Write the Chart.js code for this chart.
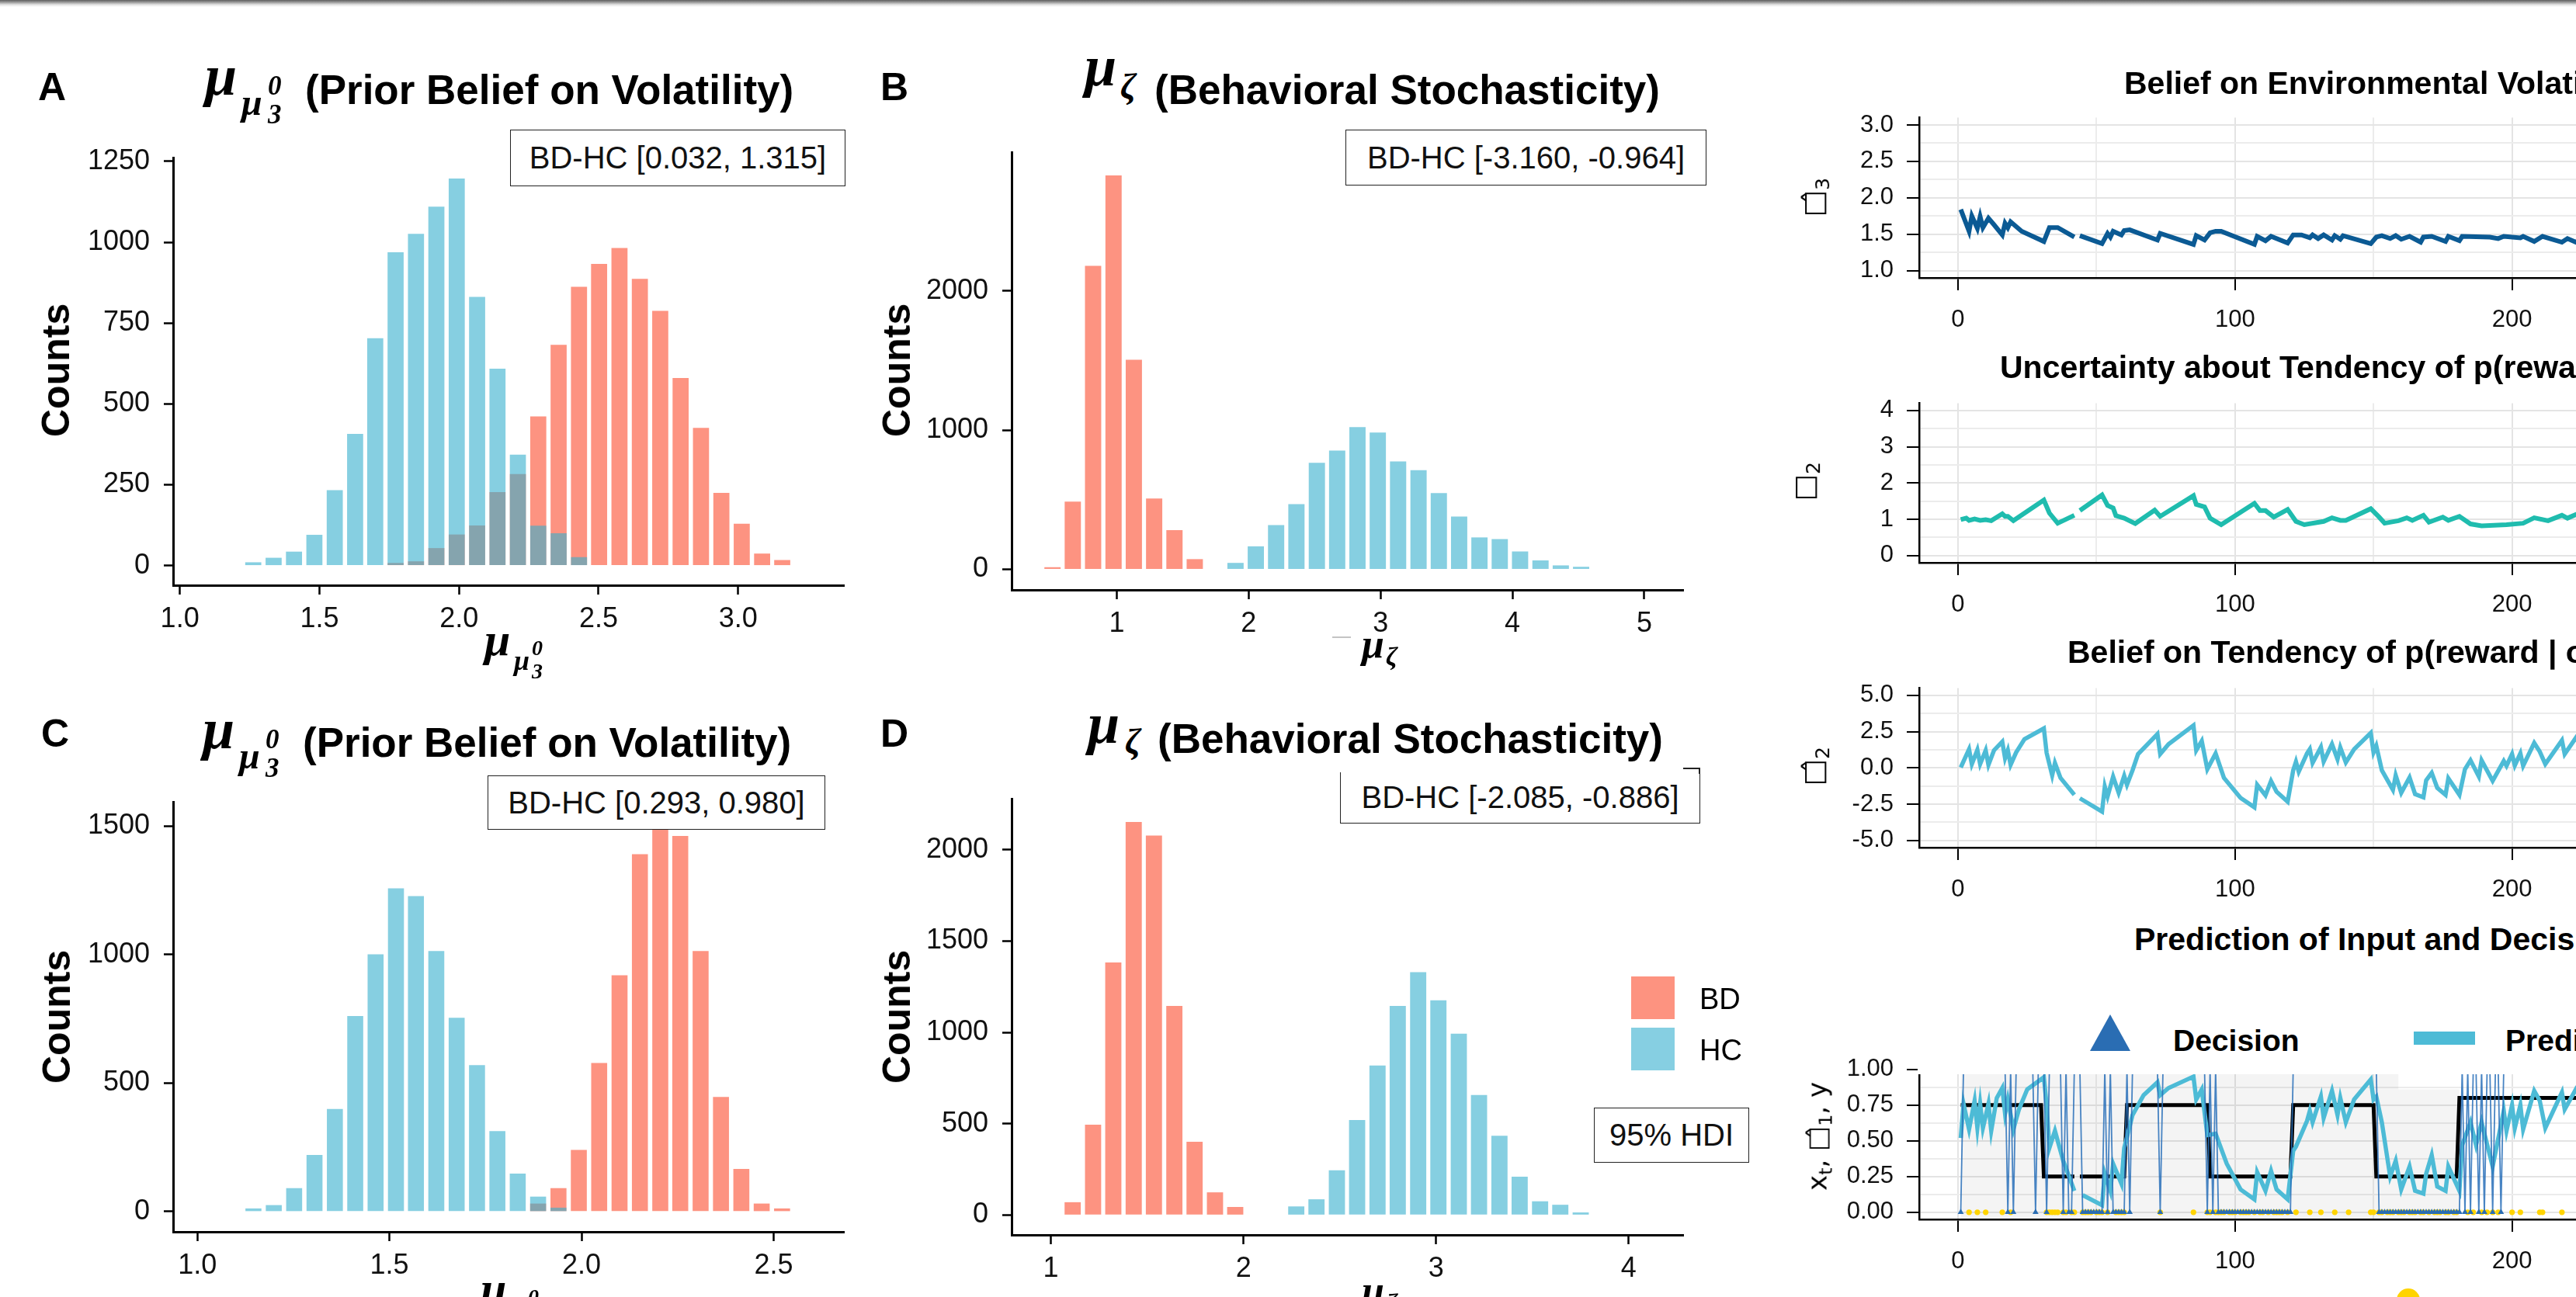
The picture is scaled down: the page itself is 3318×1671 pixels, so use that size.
<!DOCTYPE html>
<html>
<head>
<meta charset="utf-8">
<script src="https://cdn.jsdelivr.net/npm/chart.js@4.4.0/dist/chart.umd.min.js"></script>
<style>
html, body { margin: 0; padding: 0; width: 3318px; height: 1671px; overflow: hidden; background: #fff; }
body { position: relative; font-family: 'Liberation Sans', Arial, sans-serif; color: #000; }
canvas { position: absolute; }
.t { position: absolute; white-space: nowrap; line-height: 1; }
.b { font-weight: bold; }
.m { font-family: 'Liberation Serif', 'DejaVu Serif', serif; font-style: italic; font-weight: bold; }
.g { font-family: 'DejaVu Sans', sans-serif; }
.rot { position: absolute; white-space: nowrap; line-height: 1; transform: translate(-50%, -50%) rotate(-90deg); }
.box { position: absolute; box-sizing: border-box; border: 1.6px solid #222; background: #fff;
       display: flex; align-items: center; justify-content: center; font-size: 40px; color: #111; }
sub { font-size: 0.7em; vertical-align: -0.3em; }
</style>
</head>
<body>
<div style="position:absolute;left:0;top:0;width:3318px;height:9px;background:linear-gradient(#5e5e5e,#9c9c9c 3px,#e2e2e2 6px,#fff 9px);"></div>
<script>
// ---------- histogram data (bin centres and counts) ----------
const binsA = [1.263, 1.336, 1.409, 1.482, 1.555, 1.628, 1.700, 1.773, 1.846, 1.919, 1.992, 2.065, 2.138, 2.211,
  2.284, 2.357, 2.430, 2.502, 2.575, 2.648, 2.721, 2.794, 2.867, 2.940, 3.013, 3.086, 3.158];
const bdA = [0, 0, 0, 0, 0, 0, 0, 8, 13, 54, 96, 124, 227, 283, 461, 683, 862, 933, 982, 887, 788, 580, 426, 225, 129, 37, 17];
const hcA = [10, 24, 43, 95, 233, 407, 703, 969, 1026, 1110, 1197, 831, 609, 343, 123, 100, 26, 0, 0, 0, 0, 0, 0, 0, 0, 0, 0];

const binsB = [0.512, 0.666, 0.820, 0.975, 1.129, 1.283, 1.437, 1.591, 1.746, 1.900, 2.054, 2.208, 2.362, 2.517,
  2.671, 2.825, 2.979, 3.133, 3.288, 3.442, 3.596, 3.750, 3.904, 4.058, 4.213, 4.367, 4.521];
const bdB = [15, 486, 2180, 2829, 1505, 508, 281, 73, 0, 0, 0, 0, 0, 0, 0, 0, 0, 0, 0, 0, 0, 0, 0, 0, 0, 0, 0];
const hcB = [0, 0, 0, 0, 0, 0, 0, 0, 0, 46, 165, 318, 468, 765, 853, 1021, 982, 774, 712, 547, 379, 229, 217, 128, 64, 28, 18];

const binsC = [1.146, 1.199, 1.252, 1.305, 1.358, 1.411, 1.464, 1.517, 1.569, 1.622, 1.675, 1.728, 1.781, 1.834,
  1.887, 1.940, 1.993, 2.046, 2.099, 2.152, 2.205, 2.257, 2.310, 2.363, 2.416, 2.469, 2.522];
const bdC = [0, 0, 0, 0, 0, 0, 0, 0, 0, 0, 0, 0, 0, 0, 31, 91, 240, 578, 920, 1391, 1530, 1462, 1014, 446, 166, 31, 12];
const hcC = [12, 25, 91, 220, 399, 761, 1001, 1258, 1228, 1014, 754, 570, 313, 148, 58, 15, 0, 0, 0, 0, 0, 0, 0, 0, 0, 0, 0];

const binsD = [1.113, 1.219, 1.324, 1.430, 1.535, 1.641, 1.746, 1.852, 1.957, 2.063, 2.168, 2.274, 2.379, 2.485,
  2.590, 2.696, 2.801, 2.907, 3.012, 3.118, 3.223, 3.329, 3.434, 3.540, 3.645, 3.751];
const bdD = [70, 494, 1382, 2152, 2077, 1145, 401, 124, 44, 0, 0, 0, 0, 0, 0, 0, 0, 0, 0, 0, 0, 0, 0, 0, 0, 0];
const hcD = [0, 0, 0, 0, 0, 0, 0, 0, 0, 0, 0, 47, 86, 245, 520, 818, 1145, 1329, 1175, 993, 657, 434, 210, 75, 56, 14];

const xTicksA = [1.0, 1.5, 2.0, 2.5, 3.0], yTicksA = [0, 250, 500, 750, 1000, 1250];
const xTicksB = [1, 2, 3, 4, 5], yTicksB = [0, 1000, 2000];
const xTicksC = [1.0, 1.5, 2.0, 2.5], yTicksC = [0, 500, 1000, 1500];
const xTicksD = [1, 2, 3, 4], yTicksD = [0, 500, 1000, 1500, 2000];

// ---------- trajectory data [trial, value] ----------
const volBelief = [[1,1.84],[2,1.74],[4,1.54],[5,1.75],[7,1.58],[8,1.74],[9,1.59],[11,1.72],[13,1.63],[16,1.49],[17,1.65],
  [18,1.59],[19,1.67],[23,1.54],[31,1.40],[33,1.59],[36,1.59],[42,1.46],[43,null],[44,1.48],[52,1.37],[54,1.51],[55,1.46],
  [56,1.54],[59,1.49],[60,1.55],[62,1.56],[72,1.42],[73,1.51],[85,1.36],[86,1.48],[89,1.42],[91,1.52],[93,1.54],[95,1.54],
  [107,1.36],[108,1.47],[111,1.41],[113,1.47],[119,1.38],[121,1.49],[124,1.49],[127,1.45],[128,1.49],[130,1.44],[132,1.49],
  [135,1.42],[136,1.48],[138,1.43],[139,1.48],[149,1.37],[151,1.46],[153,1.48],[156,1.44],[158,1.48],[160,1.43],[163,1.47],
  [167,1.39],[168,1.46],[171,1.47],[176,1.40],[177,1.47],[181,1.41],[182,1.47],[192,1.46],[195,1.44],[197,1.47],[203,1.45],
  [204,1.47],[208,1.40],[211,1.47],[218,1.39],[220,1.44],[223,1.39],[226,1.44],[230,1.41]];

const uncertainty = [[1,0.99],[3,1.03],[4,0.97],[6,1.01],[8,0.97],[10,0.99],[12,0.96],[16,1.15],[17,1.08],[18,1.08],[20,0.96],
  [31,1.53],[33,1.17],[36,0.89],[42,1.11],[43,null],[44,1.24],[52,1.67],[54,1.38],[56,1.31],[57,1.10],[60,1.03],[64,0.88],
  [71,1.25],[73,1.08],[85,1.65],[86,1.41],[89,1.34],[91,1.03],[95,0.85],[107,1.44],[109,1.24],[111,1.24],[114,1.06],[119,1.27],
  [122,0.94],[125,0.85],[132,0.94],[135,1.04],[138,0.97],[140,0.97],[149,1.29],[152,1.06],[154,0.89],[159,0.96],[162,1.04],
  [164,0.97],[168,1.11],[170,0.92],[175,1.06],[177,0.97],[181,1.08],[185,0.87],[189,0.82],[198,0.85],[204,0.89],[208,1.04],
  [213,0.96],[218,1.11],[220,1.03],[223,1.13],[226,1.05],[230,1.12]];

const tendency = [[1,0.03],[4,1.29],[5,0.26],[7,1.24],[8,0.26],[10,1.21],[11,0.21],[13,1.21],[16,1.81],[17,0.66],[18,1.21],
  [19,0.21],[21,1.07],[24,1.98],[31,2.72],[32,1.03],[34,-0.52],[35,0.34],[37,-0.69],[42,-1.86],[43,null],[44,-2.10],[52,-3.02],
  [53,-1.29],[54,-1.98],[56,-0.60],[58,-1.72],[60,-0.55],[61,-1.17],[63,-0.17],[65,0.95],[72,2.33],[73,0.95],[76,1.64],[85,2.93],
  [86,1.21],[88,1.86],[90,-0.09],[93,1.00],[96,-0.69],[102,-2.07],[107,-2.72],[108,-1.17],[111,-1.90],[113,-0.90],[115,-1.64],
  [119,-2.33],[121,-0.17],[122,0.43],[123,-0.26],[126,1.00],[127,1.29],[128,0.34],[131,1.43],[132,0.43],[135,1.64],[137,0.60],
  [138,1.41],[140,0.38],[143,1.29],[149,2.41],[150,1.07],[151,1.52],[153,-0.17],[157,-1.52],[158,-0.52],[160,-1.72],[163,-0.66],
  [165,-1.81],[168,-2.03],[169,-0.86],[171,-0.34],[173,-1.38],[176,-1.86],[177,-0.72],[181,-1.86],[183,-0.09],[185,0.52],
  [188,-0.60],[189,0.52],[193,-0.90],[197,0.48],[198,0.14],[200,0.95],[201,0.17],[203,1.00],[204,0.14],[208,1.72],[210,1.12],
  [212,0.26],[218,1.90],[219,0.95],[223,2.07],[226,1.20],[230,2.20]];

const prediction = [[1,0.52],[2,0.76],[4,0.58],[6,0.78],[7,0.59],[8,0.76],[9,0.59],[11,0.76],[12,0.57],[14,0.80],[16,0.87],
  [17,0.69],[18,0.79],[20,0.58],[22,0.72],[25,0.86],[31,0.945],[32,0.75],[33,0.45],[35,0.57],[38,0.36],[42,0.15],[43,null],
  [45,0.12],[52,0.05],[53,0.27],[55,0.15],[56,0.34],[59,0.20],[60,0.45],[63,0.68],[67,0.82],[72,0.91],[73,0.82],[76,0.87],
  [85,0.95],[86,0.79],[88,0.86],[90,0.54],[93,0.55],[97,0.34],[102,0.16],[107,0.09],[108,0.28],[111,0.15],[113,0.29],[115,0.16],
  [119,0.09],[121,0.43],[122,0.46],[126,0.64],[127,0.71],[128,0.63],[131,0.81],[132,0.66],[135,0.85],[137,0.68],[138,0.80],
  [140,0.63],[143,0.79],[149,0.93],[150,0.79],[151,0.81],[153,0.63],[156,0.25],[158,0.36],[160,0.16],[163,0.32],[165,0.15],
  [168,0.13],[169,0.27],[171,0.40],[173,0.18],[176,0.15],[177,0.32],[181,0.15],[182,0.47],[185,0.63],[187,0.47],[189,0.63],
  [193,0.32],[197,0.71],[198,0.57],[200,0.75],[201,0.59],[203,0.75],[204,0.58],[208,0.85],[210,0.78],[212,0.59],[218,0.84],
  [219,0.72],[223,0.86],[226,0.77],[230,0.90]];

const trueProb = [[1,0.75],[30,0.75],[31,0.25],[42,0.25],[43,null],[44,0.25],[60,0.25],[61,0.75],[90,0.75],[91,0.25],
  [120,0.25],[121,0.75],[150,0.75],[151,0.25],[180,0.25],[181,0.8],[230,0.8]];

const ribbon = [[1,1.05],[159,1.05],[159,0.86],[181,0.86]];

// decisions for trials 1..230, ten per row
const decisionRows = ['0111111111', '1111111010', '1111111011', '1011111010', '0111000000', '0010100000',
  '1011111111', '1101111111', '1111111110', '1010000000', '0000000000', '0000000000', '1111111111',
  '1111111111', '1111111111', '1000000000', '0000000000', '0000000000', '0101011010', '1101101111',
  '1111111111', '1111111111', '1111111111'];
// trials where the input was 0
const inputZero = [4,7,10,16,19,32,33,34,35,36,38,39,41,42,45,46,47,48,50,51,52,54,57,58,59,60,73,85,90,91,93,94,95,96,
  98,99,100,102,103,104,105,107,109,110,112,114,115,116,117,119,122,127,131,136,141,149,150,152,153,155,156,157,159,160,
  161,163,164,165,167,168,170,172,173,174,176,177,179,180,184,186,189,191,193,195,200,203,210,211,218];

const trialRange = [-14, 315];
const trialTicks = [0, 50, 100, 150, 200, 250, 300];

// ---------- helpers ----------
Chart.defaults.font.family = "'Liberation Sans', Arial, sans-serif";
Chart.defaults.color = '#000';

const RED = 'rgba(252,75,45,0.6)';
const BLUE = 'rgba(53,175,205,0.6)';

function makeCanvas(area, yW, xH, padT, padR) {
  const c = document.createElement('canvas');
  const w = Math.round(yW + (area.r - area.l) + padR);
  const h = Math.round(padT + (area.b - area.t) + xH);
  c.width = w; c.height = h;
  c.style.width = w + 'px'; c.style.height = h + 'px';
  c.style.left = (area.l - yW) + 'px';
  c.style.top = (area.t - padT) + 'px';
  document.body.appendChild(c);
  return c;
}

const toXY = arr => arr.map(p => ({ x: p[0], y: p[1] }));
const isMajor = (v, s) => Math.abs(v / s - Math.round(v / s)) < 1e-6;

function histChart(area, xr, yr, xTicks, yTicks, xDec, bins, bd, hc) {
  const yW = 160, xH = 80, padT = 40, padR = 30;
  const c = makeCanvas(area, yW, xH, padT, padR);
  const pts = arr => bins.map((b, i) => ({ x: b, y: arr[i] })).filter(p => p.y > 0);
  new Chart(c, {
    type: 'bar',
    data: {
      datasets: [
        { label: 'BD', data: pts(bd), backgroundColor: RED, grouped: false, barPercentage: 0.8, categoryPercentage: 1, order: 2 },
        { label: 'HC', data: pts(hc), backgroundColor: BLUE, grouped: false, barPercentage: 0.8, categoryPercentage: 1, order: 1 }
      ]
    },
    options: {
      responsive: false, animation: false, events: [],
      layout: { padding: { left: 0, top: padT, right: padR, bottom: 0 } },
      plugins: { legend: { display: false }, tooltip: { enabled: false } },
      scales: {
        x: {
          type: 'linear', min: xr[0], max: xr[1], offset: false, bounds: 'data',
          afterFit: s => { s.height = xH; },
          afterBuildTicks: s => { s.ticks = xTicks.map(v => ({ value: v })); },
          grid: { offset: false, drawOnChartArea: false, tickLength: 12, tickWidth: 2.5, tickColor: '#000' },
          border: { display: true, color: '#000', width: 3 },
          ticks: { font: { size: 36 }, color: '#111', padding: 10, maxRotation: 0, autoSkip: false,
                   callback: v => Number(v).toFixed(xDec) }
        },
        y: {
          min: yr[0], max: yr[1], bounds: 'data',
          afterFit: s => { s.width = yW; },
          afterBuildTicks: s => { s.ticks = yTicks.map(v => ({ value: v })); },
          grid: { drawOnChartArea: false, tickLength: 12, tickWidth: 2.5, tickColor: '#000' },
          border: { display: true, color: '#000', width: 3 },
          ticks: { font: { size: 36 }, color: '#111', padding: 18, autoSkip: false, callback: v => String(v) }
        }
      }
    }
  });
}

function linePanel(area, yr, yTicks, yMajor, yDec, datasets) {
  const yW = 140, xH = 75, padT = 30, padR = 20;
  const c = makeCanvas(area, yW, xH, padT, padR);
  const tv = ctx => (ctx.tick ? ctx.tick.value : 0);
  new Chart(c, {
    type: 'line',
    data: { datasets },
    options: {
      responsive: false, animation: false, events: [],
      layout: { padding: { left: 0, top: padT, right: padR, bottom: 0 } },
      plugins: { legend: { display: false }, tooltip: { enabled: false } },
      elements: { point: { radius: 0 }, line: { tension: 0 } },
      scales: {
        x: {
          type: 'linear', min: trialRange[0], max: trialRange[1], bounds: 'data',
          afterFit: s => { s.height = xH; },
          afterBuildTicks: s => { s.ticks = trialTicks.map(v => ({ value: v })); },
          grid: { color: ctx => isMajor(tv(ctx), 100) ? '#e4e4e4' : '#ececec', lineWidth: 2,
                  tickLength: 16, tickWidth: 2,
                  tickColor: ctx => isMajor(tv(ctx), 100) ? '#000' : 'rgba(0,0,0,0)' },
          border: { display: true, color: '#000', width: 2.5 },
          ticks: { font: { size: 31 }, color: '#111', padding: 20, maxRotation: 0, autoSkip: false,
                   callback: v => isMajor(v, 100) ? String(v) : '' }
        },
        y: {
          min: yr[0], max: yr[1], bounds: 'data',
          afterFit: s => { s.width = yW; },
          afterBuildTicks: s => { s.ticks = yTicks.map(v => ({ value: v })); },
          grid: { color: ctx => isMajor(tv(ctx), yMajor) ? '#e4e4e4' : '#ececec', lineWidth: 2,
                  tickLength: 16, tickWidth: 2,
                  tickColor: ctx => isMajor(tv(ctx), yMajor) ? '#000' : 'rgba(0,0,0,0)' },
          border: { display: true, color: '#000', width: 2.5 },
          ticks: { font: { size: 31 }, color: '#111', padding: 17, autoSkip: false,
                   callback: v => isMajor(v, yMajor) ? Number(v).toFixed(yDec) : '' }
        }
      }
    }
  });
}

function put(html, left, base, size, cls, color) {
  const d = document.createElement('div');
  d.className = 't ' + (cls || '');
  d.style.left = left + 'px';
  d.style.top = (base - 0.85 * size) + 'px';
  d.style.fontSize = size + 'px';
  if (color) d.style.color = color;
  d.innerHTML = html;
  document.body.appendChild(d);
  return d;
}
function rot(html, cx, cy, size, cls) {
  const d = document.createElement('div');
  d.className = 'rot ' + (cls || '');
  d.style.left = cx + 'px'; d.style.top = cy + 'px'; d.style.fontSize = size + 'px';
  d.innerHTML = html;
  document.body.appendChild(d);
}
function rect(l, t, w, h, style) {
  const d = document.createElement('div');
  d.style.position = 'absolute';
  d.style.left = l + 'px'; d.style.top = t + 'px'; d.style.width = w + 'px'; d.style.height = h + 'px';
  Object.assign(d.style, style || {});
  document.body.appendChild(d);
  return d;
}
function box(text, l, t, w, h, style) {
  const d = rect(l, t, w, h, style);
  d.className = 'box';
  d.textContent = text;
  return d;
}

// ---------- histograms ----------
histChart({ l: 223, r: 1087, t: 203, b: 754 }, [0.976, 3.379], [-61, 1262], xTicksA, yTicksA, 1, binsA, bdA, hcA);
histChart({ l: 1303, r: 2168, t: 196, b: 760 }, [0.202, 5.295], [-148, 2996], xTicksB, yTicksB, 0, binsB, bdB, hcB);
histChart({ l: 223, r: 1087, t: 1033, b: 1587 }, [0.937, 2.683], [-79, 1595], xTicksC, yTicksC, 1, binsC, bdC, hcC);
histChart({ l: 1303, r: 2168, t: 1029, b: 1591 }, [0.796, 4.283], [-109, 2279], xTicksD, yTicksD, 0, binsD, bdD, hcD);

// ---------- trajectories ----------
const R = { l: 2472, r: 3645.6 };
linePanel({ ...R, t: 146.4, b: 358.6 }, [0.9, 3.1], [1, 1.25, 1.5, 1.75, 2, 2.25, 2.5, 2.75, 3], 0.5, 1, [
  { data: toXY(volBelief), borderColor: '#0b5a94', borderWidth: 6, pointRadius: 0 }
]);
linePanel({ ...R, t: 514.4, b: 725.6 }, [-0.2, 4.2], [0, 0.5, 1, 1.5, 2, 2.5, 3, 3.5, 4], 1, 0, [
  { data: toXY(uncertainty), borderColor: '#1fbcae', borderWidth: 6, pointRadius: 0 }
]);
linePanel({ ...R, t: 881, b: 1092 }, [-5.5, 5.5], [-5, -3.75, -2.5, -1.25, 0, 1.25, 2.5, 3.75, 5], 2.5, 1, [
  { data: toXY(tendency), borderColor: '#4dbbd6', borderWidth: 5.5, pointRadius: 0 }
]);
const decisions = decisionRows.join('');
const decisionPts = decisions.split('').map((ch, i) => ({ x: i + 1, y: Number(ch) }));
linePanel({ ...R, t: 1362.6, b: 1570.5 }, [-0.05, 1.05], [0, 0.125, 0.25, 0.375, 0.5, 0.625, 0.75, 0.875, 1], 0.25, 2, [
  { data: toXY(ribbon), borderWidth: 0, pointRadius: 0, fill: 'start', backgroundColor: 'rgba(0,0,0,0.045)', order: 6 },
  { data: toXY(trueProb), borderColor: '#000', borderWidth: 5, pointRadius: 0, order: 5 },
  { data: toXY(prediction), borderColor: '#4dbbd6', borderWidth: 5.5, pointRadius: 0, order: 4 },
  { data: decisionPts, borderColor: 'rgba(40,110,185,0.85)', borderWidth: 1.8, pointRadius: 0, order: 3 },
  { data: inputZero.map(t => ({ x: t, y: 0 })), showLine: false, pointStyle: 'circle', pointRadius: 3.6,
    pointBackgroundColor: '#ffd400', pointBorderWidth: 0, order: 2 },
  { data: decisionPts, showLine: false, pointStyle: 'triangle', pointRadius: 4.5,
    pointBackgroundColor: '#2a6db3', pointBorderWidth: 0, order: 1 }
]);

// ---------- text: panel letters, titles, axis labels ----------
put('A', 49, 129, 50, 'b');
put('B', 1134, 129, 50, 'b');
put('C', 53, 962, 50, 'b');
put('D', 1134, 962, 50, 'b');

function priorTitle(dx, dy) {
  put('μ', 264 + dx, 123 + dy, 74, 'm');
  put('μ', 311 + dx, 149 + dy, 48, 'm');
  put('3', 345 + dx, 160 + dy, 35, 'm');
  put('0', 345 + dx, 123 + dy, 35, 'm');
  put('(Prior Belief on Volatility)', 393 + dx, 134 + dy, 53, 'b');
}
priorTitle(0, 0);
priorTitle(-3, 841.5);

put('μ', 1397, 111, 74, 'm');
put('ζ', 1443, 128, 46, 'm');
put('(Behavioral Stochasticity)', 1487, 134, 53, 'b');
put('μ', 1401, 958, 74, 'm');
put('ζ', 1449, 972, 46, 'm');
put('(Behavioral Stochasticity)', 1491, 970, 53, 'b');

function priorXLabel(dx, dy) {
  put('μ', 624 + dx, 845 + dy, 60, 'm');
  put('μ', 662 + dx, 864 + dy, 36, 'm');
  put('3', 685 + dx, 875 + dy, 28, 'm');
  put('0', 685 + dx, 845 + dy, 28, 'm');
}
priorXLabel(0, 0);
priorXLabel(-5, 836);
function zetaXLabel(dy) {
  put('μ', 1754, 848 + dy, 52, 'm');
  put('ζ', 1785, 858 + dy, 34, 'm');
}
rect(1716, 820, 24, 2, { background: '#c4c4c4' });
zetaXLabel(0);
zetaXLabel(833);

rot('Counts', 72, 477, 50, 'b');
rot('Counts', 1155, 477, 50, 'b');
rot('Counts', 73, 1310, 50, 'b');
rot('Counts', 1155, 1310, 50, 'b');

// annotation boxes
box('BD-HC [0.032, 1.315]', 657, 167, 432, 73);
box('BD-HC [-3.160, -0.964]', 1733, 167, 465, 72);
box('BD-HC [0.293, 0.980]', 628, 999, 435, 70);
box('BD-HC [-2.085, -0.886]', 1726, 995, 464, 66, { borderTop: 'none' });
rect(2168, 989, 22, 1.6, { background: '#222' });
rect(2188.4, 989, 1.6, 8, { background: '#222' });
box('95% HDI', 2053, 1427, 200, 71);

// group legend
rect(2101, 1258, 56, 55, { background: '#fd9380' });
rect(2101, 1324, 56, 55, { background: '#86cfe2' });
put('BD', 2189, 1300, 38);
put('HC', 2189, 1366, 38);

// right column titles and axis labels
put('Belief on Environmental Volatility', 2736, 122, 41, 'b');
put('Uncertainty about Tendency of p(reward | option)', 2576, 488, 41, 'b');
put('Belief on Tendency of p(reward | option)', 2663, 855, 41, 'b');
put('Prediction of Input and Decision', 2749, 1225, 41, 'b');

rot('<span class="g">□&#770;<sub>3</sub></span>', 2339, 254, 36);
rot('<span class="g">□<sub>2</sub></span>', 2327, 620, 36);
rot('<span class="g">□&#770;<sub>2</sub></span>', 2339, 987, 36);
rot('<span class="g">x<sub>t</sub>, □&#770;<sub>1</sub>, y</span>', 2344, 1464, 34);

// legend of the prediction panel (white key area over the top of the panel)
rect(2470, 1240, 900, 144, { background: '#fff' });
rect(2692, 1307, 0, 0, { borderLeft: '26.5px solid transparent', borderRight: '26.5px solid transparent',
                         borderBottom: '47px solid #2a6db3' });
put('Decision', 2799, 1354, 39, 'b');
rect(3109, 1329, 79, 17, { background: '#4dbbd6' });
put('Prediction', 3227, 1354, 39, 'b');
rect(3087, 1660, 30, 30, { background: '#ffd400', borderRadius: '50%' });
</script>
</body>
</html>
